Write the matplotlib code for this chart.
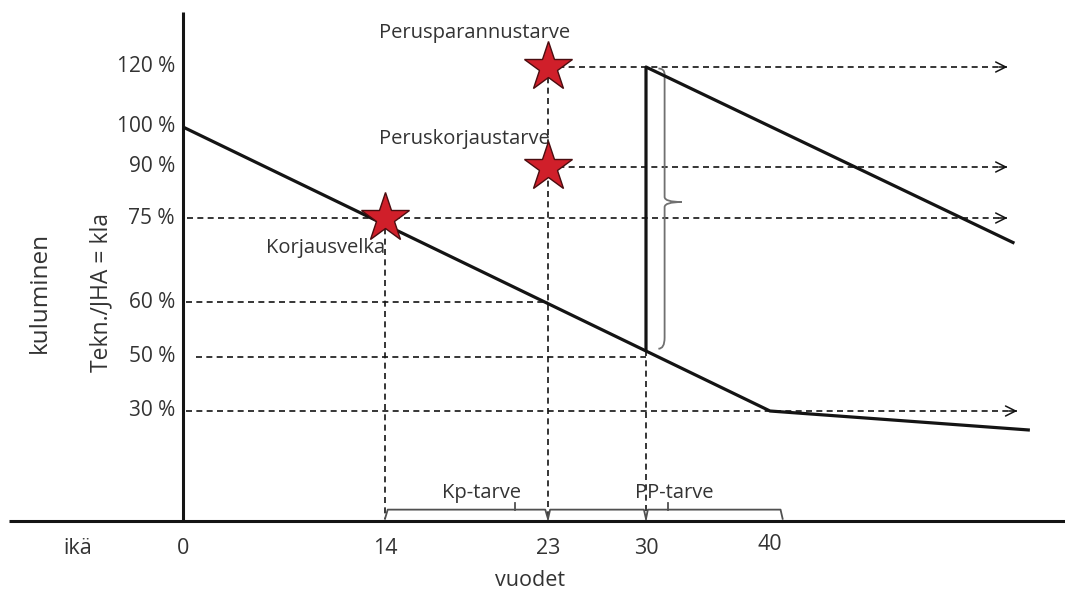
import numpy as np
import matplotlib
matplotlib.use("Agg")
import matplotlib.pyplot as plt
from matplotlib.path import Path
from matplotlib.patches import PathPatch

# ---- data (ages in years, condition in %) ----
AGES = [0, 14, 23, 30, 40]
AGE_LABELS = ["0", "14", "23", "30", "40"]
LEVELS = [120, 100, 90, 75, 60, 50, 30]
LEVEL_LABELS = ["120 %", "100 %", "90 %", "75 %", "60 %", "50 %", "30 %"]

# ageing curve: new -> 30 % at 40 years, then slow decline
WEAR_AGE = [0, 40, 58.5]
WEAR_PCT = [100, 30, 24.8]
# after the upgrade at year 30 the building is back at 120 %
UPGRADE_AGE = [30, 30, 57.4]
UPGRADE_PCT = [51.2, 120, 70.5]

# stars: (age, level, label)
STAR_AGE = [14, 23, 23]
STAR_PCT = [75, 120, 90]
STAR_TEXT = ["Korjausvelka", "Perusparannustarve", "Peruskorjaustarve"]

# dashed guides: horizontal (level, from age, to age, arrow?)
H_LEVEL = [120, 90, 75, 60, 50, 30]
H_START = [23, 23, 0.3, 0.2, 0.9, 0.2]
H_END = [56.9, 56.9, 56.9, 23, 30, 57.6]
H_ARROW = [True, True, True, False, False, True]
# vertical (age, from level down to axis)
V_AGE = [14, 23, 30]
V_TOP = [75, 120, 51.2]

# need brackets under the axis
BR_START = [14, 23, 30]
BR_END = [23, 30, 40.9]
BR_TICK = [21.2, None, 31.8]
BR_TEXT = ["Kp-tarve", None, "PP-tarve"]

# ---- piecewise scale so the schematic keeps its hand-drawn spacing ----
AGE_KNOTS = np.array([-12.8, 0, 14, 23, 30, 40, 61])
X_KNOTS = np.array([0, 183, 385, 548, 646, 770, 1065])
PCT_KNOTS = np.array([-25, 0, 30, 50, 60, 75, 90, 100, 120, 142])
Y_KNOTS = 594 - np.array([594, 521, 411, 357, 302, 218, 167, 127, 67, 0])

INK = "#141414"
TXT = "#333333"
plt.rcParams["font.family"] = ["Open Sans", "DejaVu Sans"]

fig = plt.figure(figsize=(10.65, 5.94), dpi=100)
ax = fig.add_axes([0, 0, 1, 1])
ax.set_xscale("function", functions=(lambda a: np.interp(a, AGE_KNOTS, X_KNOTS),
                                     lambda p: np.interp(p, X_KNOTS, AGE_KNOTS)))
ax.set_yscale("function", functions=(lambda v: np.interp(v, PCT_KNOTS, Y_KNOTS),
                                     lambda p: np.interp(p, Y_KNOTS, PCT_KNOTS)))
ax.set_xlim(AGE_KNOTS[0], AGE_KNOTS[-1])
ax.set_ylim(PCT_KNOTS[0], PCT_KNOTS[-1])
ax.axis("off")

# axes lines
ax.plot([0, 0], [0, 138], color=INK, lw=2.2, solid_capstyle="butt", zorder=3)
ax.plot([-12.2, 61], [0, 0], color=INK, lw=2.2, solid_capstyle="butt", zorder=3)

dash = dict(color=INK, lw=1.2, dashes=(3.6, 2.6), zorder=2)
for lvl, x0, x1, arr in zip(H_LEVEL, H_START, H_END, H_ARROW):
    ax.plot([x0, x1], [lvl, lvl], **dash)
    if arr:
        ax.annotate("", xy=(x1, lvl), xytext=(x1 - 0.6, lvl),
                    arrowprops=dict(arrowstyle="->", color=INK, lw=1.1,
                                    mutation_scale=18, shrinkA=0, shrinkB=0))
for a, top in zip(V_AGE, V_TOP):
    ax.plot([a, a], [top, 0.5], **dash)

# curves
ax.plot(WEAR_AGE, WEAR_PCT, color=INK, lw=2.3, zorder=4, solid_capstyle="butt")
ax.plot(UPGRADE_AGE, UPGRADE_PCT, color=INK, lw=2.3, zorder=4, solid_capstyle="butt")

# curly brace beside the upgrade jump
bx, tip_x = 31.5, 32.9
top, mid, bot = 119.5, 79.7, 51.5
verts = [(31.0, top), (bx, top), (bx, top - 2),
         (bx, mid + 1.5), (bx, mid), (tip_x, mid),
         (bx, mid), (bx, mid - 1.5),
         (bx, bot + 2), (bx, bot), (31.0, bot)]
codes = [Path.MOVETO, Path.CURVE3, Path.CURVE3,
         Path.LINETO, Path.CURVE3, Path.CURVE3,
         Path.CURVE3, Path.CURVE3,
         Path.LINETO, Path.CURVE3, Path.CURVE3]
ax.add_patch(PathPatch(Path(verts, codes), fill=False, ec="#707070", lw=1.3, zorder=3))

# stars
ax.plot(STAR_AGE, STAR_PCT, ls="none", marker="*", ms=37, mfc="#d01f2a",
        mec="#4a0d10", mew=1.0, zorder=6)
ax.annotate(STAR_TEXT[0], (STAR_AGE[0], STAR_PCT[0]), xytext=(0, -30),
            textcoords="offset pixels", ha="right", va="center", fontsize=14.5, color=TXT)
ax.annotate(STAR_TEXT[1], (STAR_AGE[1], STAR_PCT[1]), xytext=(-73, 34),
            textcoords="offset pixels", ha="center", va="center", fontsize=14.5, color=TXT)
ax.annotate(STAR_TEXT[2], (STAR_AGE[2], STAR_PCT[2]), xytext=(-84, 28),
            textcoords="offset pixels", ha="center", va="center", fontsize=14.5, color=TXT)

# need brackets
for x0, x1, t, lab in zip(BR_START, BR_END, BR_TICK, BR_TEXT):
    ax.plot([x0, x0 + 0.15, x1 - 0.15, x1], [0.6, 3.1, 3.1, 0.6],
            color="#505050", lw=1.3, zorder=3)
    if t is not None:
        ax.plot([t, t], [3.1, 4.9], color="#505050", lw=1.3, zorder=3)
        ax.annotate(lab, (t, 3.1), xytext=(-34 if lab == "Kp-tarve" else 6, 17),
                    textcoords="offset pixels", ha="center", va="center",
                    fontsize=14.5, color=TXT)

# tick labels
for lvl, lab in zip(LEVELS, LEVEL_LABELS):
    ax.annotate(lab, (0, lvl), xytext=(-8, 0), textcoords="offset pixels",
                ha="right", va="center", fontsize=15, color=TXT)
for a, lab in zip(AGES, AGE_LABELS):
    ax.annotate(lab, (a, 0), xytext=(0, -28 if a != 40 else -24),
                textcoords="offset pixels", ha="center", va="center",
                fontsize=15.5, color=TXT)
ax.annotate("ikä", (0, 0), xytext=(-105, -28), textcoords="offset pixels",
            ha="center", va="center", fontsize=15.5, color=TXT)
ax.annotate("vuodet", (23, 0), xytext=(-18, -59), textcoords="offset pixels",
            ha="center", va="center", fontsize=15.5, color=TXT)

# axis titles
ax.annotate("Tekn./JHA = kla", (0, 0), xytext=(-82, 229), textcoords="offset pixels",
            ha="center", va="center", rotation=90, fontsize=16.5, color=TXT)
ax.annotate("kuluminen", (0, 0), xytext=(-143, 229), textcoords="offset pixels",
            ha="center", va="center", rotation=90, fontsize=17.5, color=TXT)

fig.savefig("out.png", dpi=100, facecolor="white")
